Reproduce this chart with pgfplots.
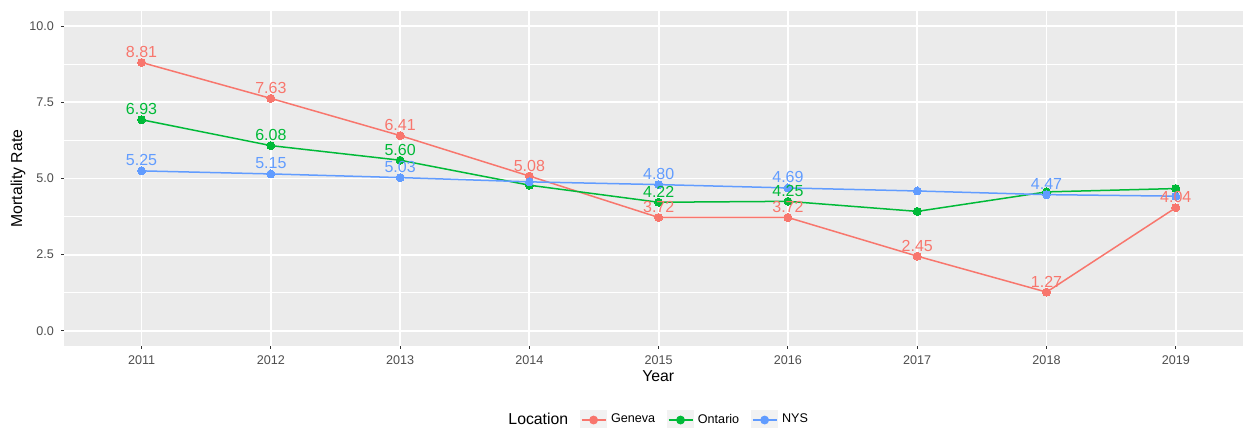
\documentclass[border=0pt]{standalone}
\usepackage{pgfplots}
\pgfplotsset{compat=1.18}
\usepackage{pgfplotstable}
\usepackage{fontspec}
\setmainfont{Liberation Sans}
\definecolor{geneva}{HTML}{F8766D}
\definecolor{ontario}{HTML}{00BA38}
\definecolor{nys}{HTML}{619CFF}
\definecolor{panelbg}{HTML}{EBEBEB}
\definecolor{keybg}{HTML}{F2F2F2}
\definecolor{tickc}{HTML}{333333}
\definecolor{ticklab}{HTML}{4D4D4D}

\pgfplotstableread{
year rate show
2011 8.81 1
2012 7.63 1
2013 6.41 1
2014 5.08 1
2015 3.72 1
2016 3.72 1
2017 2.45 1
2018 1.27 1
2019 4.04 1
}\tabGeneva
\pgfplotstableread{
year rate show
2011 6.93 1
2012 6.08 1
2013 5.60 1
2014 4.78 0
2015 4.22 1
2016 4.25 1
2017 3.92 0
2018 4.56 0
2019 4.67 0
}\tabOntario
\pgfplotstableread{
year rate show
2011 5.25 1
2012 5.15 1
2013 5.03 1
2014 4.89 0
2015 4.80 1
2016 4.69 1
2017 4.59 0
2018 4.47 1
2019 4.42 0
}\tabNYS

\pgfplotsset{
  ggkey/.style={legend image code/.code={
    \fill[keybg] (0pt,-4.75pt) rectangle (13pt,4.75pt);
    \draw[#1, line width=0.75pt] (0.5pt,0pt) -- (12.5pt,0pt);
    \fill[#1] (6.5pt,0pt) circle (2pt);}},
  ggline/.style={#1, line width=0.75pt, mark=none, forget plot},
  ggpts/.style={only marks, mark=*, mark size=2pt, mark options={fill=#1, draw=#1, line width=0pt}, color=#1, forget plot},
  gglab/.style={draw=none, mark=none, forget plot, unbounded coords=discard,
    point meta=explicit,
    nodes near coords={\pgfmathprintnumber[fixed,fixed zerofill,precision=2]{\pgfplotspointmeta}},
    nodes near coords style={text=#1, font=\fontsize{8}{9}\selectfont, anchor=center, yshift=5.25pt, inner sep=0pt}},
}

\begin{document}
\begin{tikzpicture}
\begin{axis}[
  scale only axis, width=589.5pt, height=167.5pt,
  xmin=2010.4, xmax=2019.52, ymin=-0.5, ymax=10.5,
  axis background/.style={fill=panelbg},
  axis line style={draw=none},
  xtick={2011,2012,2013,2014,2015,2016,2017,2018,2019},
  ytick={0,2.5,5,7.5,10},
  minor ytick={1.25,3.75,6.25,8.75},
  grid=both,
  major grid style={white, line width=0.9pt},
  minor grid style={white, line width=0.45pt},
  minor tick length=0pt,
  tick align=outside, tick pos=left,
  major tick length=1.5pt,
  tick style={tickc, line width=0.5pt},
  /pgf/number format/assume math mode=true,
  xticklabel style={font=\fontsize{6.3}{7}\selectfont, text=ticklab, /pgf/number format/1000 sep={}},
  yticklabel style={font=\fontsize{6.3}{7}\selectfont, text=ticklab, /pgf/number format/fixed, /pgf/number format/fixed zerofill, /pgf/number format/precision=1},
  xlabel={Year}, ylabel={Mortality Rate},
  label style={font=\fontsize{7.9}{9}\selectfont},
  xlabel style={at={(axis description cs:0.504,-0.0896)}, anchor=center},
  ylabel style={at={(axis description cs:-0.039,0.5)}, anchor=center},
  legend columns=4,
  legend style={draw=none, fill=none, at={(axis description cs:0.504,-0.221)}, anchor=center,
    font=\fontsize{6.3}{7}\selectfont, /tikz/every even column/.append style={column sep=4pt}},
]
\addplot[ggline=geneva] table[x=year,y=rate]{\tabGeneva};
\addplot[ggline=ontario] table[x=year,y=rate]{\tabOntario};
\addplot[ggline=nys] table[x=year,y=rate]{\tabNYS};
\addplot[ggpts=geneva] table[x=year,y=rate]{\tabGeneva};
\addplot[ggpts=ontario] table[x=year,y=rate]{\tabOntario};
\addplot[ggpts=nys] table[x=year,y=rate]{\tabNYS};
\addplot[gglab=geneva] table[x=year, y expr={\thisrow{show}==1 ? \thisrow{rate} : nan}, meta=rate]{\tabGeneva};
\addplot[gglab=ontario] table[x=year, y expr={\thisrow{show}==1 ? \thisrow{rate} : nan}, meta=rate]{\tabOntario};
\addplot[gglab=nys] table[x=year, y expr={\thisrow{show}==1 ? \thisrow{rate} : nan}, meta=rate]{\tabNYS};
\addlegendimage{empty legend}
\addlegendentry{\fontsize{7.9}{9}\selectfont Location}
\addlegendimage{ggkey=geneva}
\addlegendentry{Geneva}
\addlegendimage{ggkey=ontario}
\addlegendentry{Ontario}
\addlegendimage{ggkey=nys}
\addlegendentry{NYS}
\end{axis}
\pgfresetboundingbox
\path[use as bounding box] ([shift={(-32pt,-41pt)}]current axis.south west) rectangle ([shift={(0pt,5.5pt)}]current axis.north east);
\end{tikzpicture}
\end{document}
